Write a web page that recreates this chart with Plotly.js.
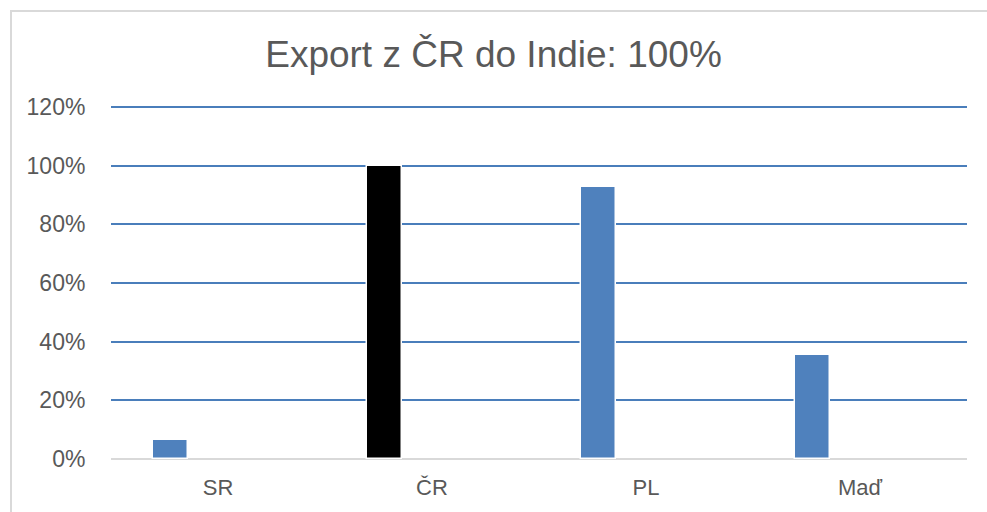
<!DOCTYPE html>
<html>
<head>
<meta charset="utf-8">
<script src="https://cdn.plot.ly/plotly-3.0.1.min.js"></script>
<style>
  html, body { margin: 0; padding: 0; background: #ffffff; overflow: hidden; }
  #frame { position: absolute; left: 10px; top: 10px; width: 1200px; height: 800px;
           border: 2px solid #d9d9d9; box-sizing: border-box; }
  #chart { position: absolute; left: 0; top: 0; width: 987px; height: 512px; }
</style>
</head>
<body>
<div id="frame"></div>
<div id="chart"></div>
<script>
const categories = ["SR", "ČR", "PL", "Maď"];
const values = [0.064, 1.00, 0.926, 0.356];
const barColors = ["#4f81bd", "#000000", "#4f81bd", "#4f81bd"];
const yTickVals = [0, 0.2, 0.4, 0.6, 0.8, 1.0, 1.2];
const yTickText = ["0%", "20%", "40%", "60%", "80%", "100%", "120%"];
const titleText = "Export z ČR do Indie: 100%";

const trace = {
  type: "bar",
  x: categories,
  y: values,
  width: 0.166,
  offset: -0.305,
  marker: { color: barColors, line: { color: "#ffffff", width: 1.5 } },
  hoverinfo: "x+y"
};

const layout = {
  width: 987,
  height: 512,
  margin: { l: 111, r: 20, t: 105.5, b: 52.5 },
  paper_bgcolor: "rgba(0,0,0,0)",
  plot_bgcolor: "rgba(0,0,0,0)",
  showlegend: false,
  font: { family: "Liberation Sans, Arial, sans-serif", color: "#595959" },
  title: {
    text: titleText,
    font: { size: 37, color: "#595959", family: "Liberation Sans, Arial, sans-serif" },
    x: 0.5, xanchor: "center",
    y: 0.895, yanchor: "middle", yref: "container"
  },
  xaxis: {
    type: "category",
    showgrid: false,
    showline: false,
    zeroline: false,
    ticks: "outside",
    ticklen: 9,
    tickcolor: "rgba(0,0,0,0)",
    tickfont: { size: 22, color: "#595959" },
    fixedrange: true
  },
  yaxis: {
    range: [0, 1.2035],
    tickvals: yTickVals,
    ticktext: yTickText,
    showgrid: true,
    gridcolor: "#4a7ebb",
    gridwidth: 1.8,
    zeroline: true,
    zerolinecolor: "#d9d9d9",
    zerolinewidth: 2,
    showline: false,
    ticks: "outside",
    ticklen: 20,
    tickcolor: "rgba(0,0,0,0)",
    tickfont: { size: 23, color: "#595959" },
    fixedrange: true
  },
  bargap: 0
};

Plotly.newPlot("chart", [trace], layout, { displayModeBar: false, staticPlot: false });
</script>
</body>
</html>
